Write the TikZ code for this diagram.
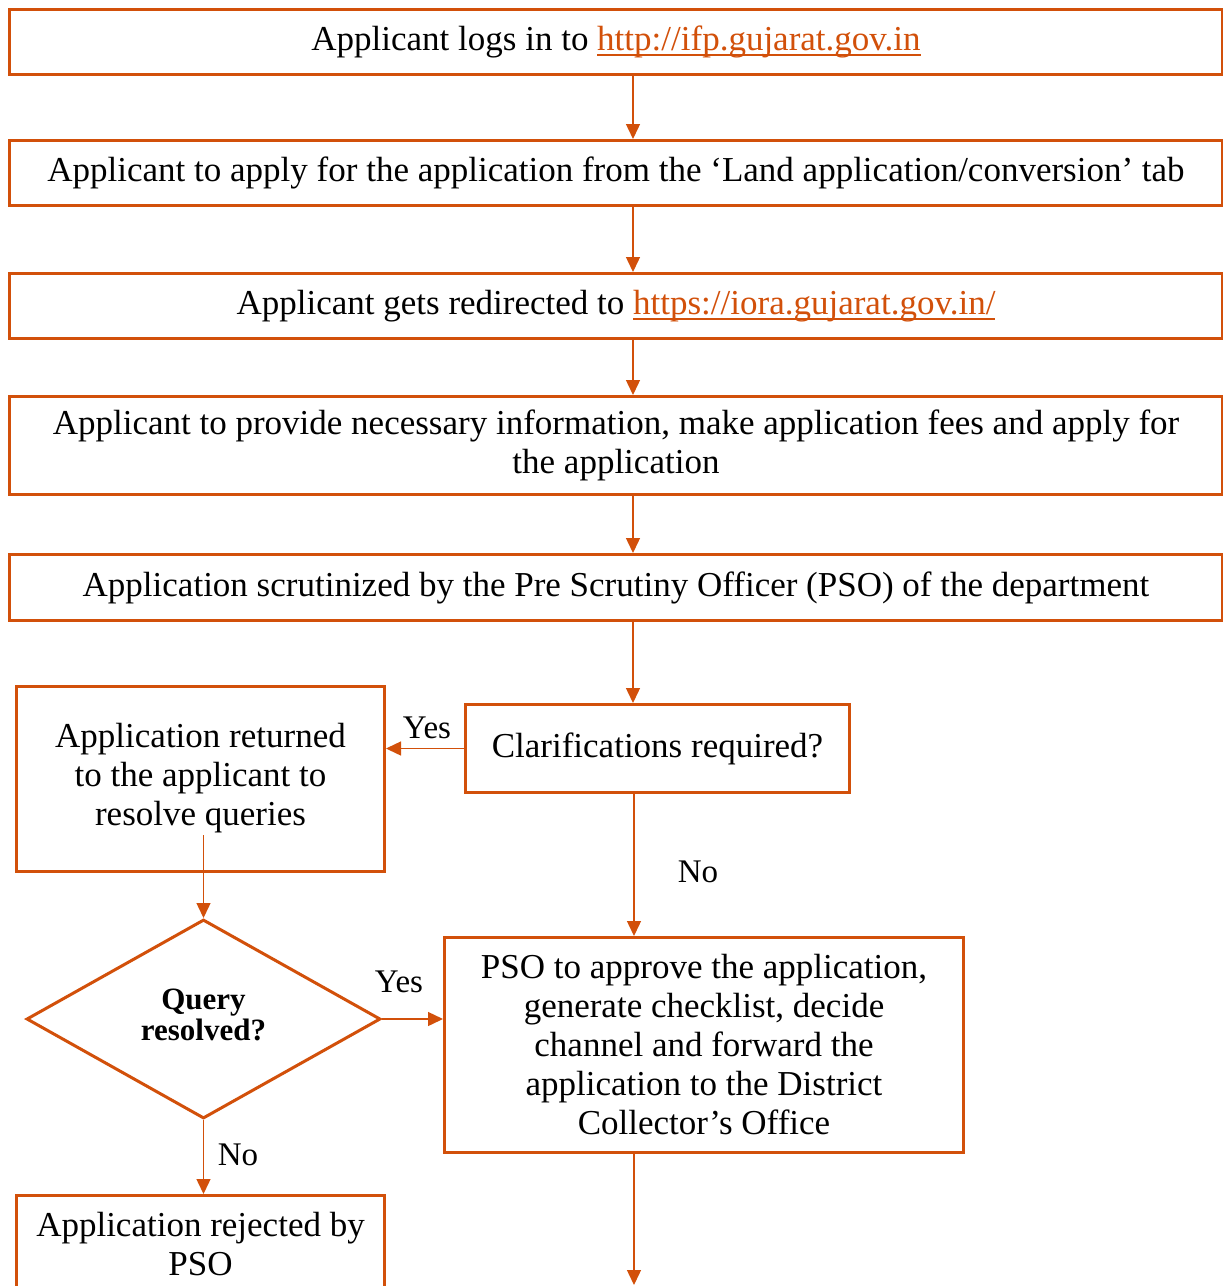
\documentclass[tikz,border=0pt]{standalone}
\usepackage{fontspec}
\setmainfont{Liberation Serif}
\usetikzlibrary{arrows.meta,calc,shapes.geometric}
\definecolor{FlowOrange}{HTML}{D2500A}
\newsavebox{\linkbox}
\newcommand{\weblink}[1]{\textcolor{FlowOrange}{\sbox{\linkbox}{#1}%
  \rlap{\rule[-5.5pt]{\wd\linkbox}{1.6pt}}\usebox{\linkbox}}}
\tikzset{
  stepbox/.style={
    draw=FlowOrange,
    line width=3pt,
    fill=white,
    align=center,
    inner sep=0pt,
    font=\fontsize{35}{39}\selectfont
  },
  decision/.style={
    stepbox,
    shape=diamond,
    font=\bfseries\fontsize{31}{31}\selectfont
  },
  flow/.style={
    draw=FlowOrange,
    line width=1.4pt,
    -{Triangle[length=15pt,width=14pt]}
  },
  answer/.style={inner sep=0pt, font=\fontsize{33}{39}\selectfont}
}

\begin{document}
\begin{tikzpicture}[x=1pt,y=-1pt]
  \useasboundingbox (0,0) rectangle (1223,1286);
  \clip (0,0) rectangle (1223,1286);

  % main column
  \node[stepbox, minimum width=1213pt, minimum height=65pt] (login) at (616,42)
    {Applicant logs in to \weblink{http://ifp.gujarat.gov.in}};
  \node[stepbox, minimum width=1213pt, minimum height=65pt] (apply) at (616,173)
    {Applicant to apply for the application from the ‘Land application/conversion’ tab};
  \node[stepbox, minimum width=1213pt, minimum height=65pt] (redirect) at (616,306)
    {Applicant gets redirected to \weblink{https://iora.gujarat.gov.in/}};
  \node[stepbox, minimum width=1213pt, minimum height=98pt] (provide) at (616,445.5)
    {Applicant to provide necessary information, make application fees and apply for\\
     the application};
  \node[stepbox, minimum width=1213pt, minimum height=66pt] (scrutiny) at (616,587.5)
    {Application scrutinized by the Pre Scrutiny Officer (PSO) of the department};

  % branches
  \node[stepbox, minimum width=384pt, minimum height=88pt] (clarify) at (657.5,748.5)
    {Clarifications required?};
  \node[stepbox, minimum width=368pt, minimum height=185pt] (returned) at (200.5,779)
    {\raisebox{-6pt}{\begin{tabular}{@{}c@{}}Application returned\\ to the applicant to\\ resolve queries\end{tabular}}};
  \node[decision, minimum width=354pt, minimum height=199pt] (resolved) at (203.5,1019)
    {\raisebox{6pt}{\begin{tabular}{@{}c@{}}Query\\ resolved?\end{tabular}}};
  \node[stepbox, minimum width=519pt, minimum height=215pt] (approve) at (704,1045)
    {PSO to approve the application,\\ generate checklist, decide\\ channel and forward the\\
     application to the District\\ Collector’s Office};
  \node[stepbox, minimum width=368pt, minimum height=97pt] (rejected) at (200.5,1244)
    {Application rejected by\\ PSO};

  \coordinate (spine) at (633,0);
  \coordinate (onward) at (634,1285);

  \draw[flow] (login.south -| spine) -- (apply.north -| spine);
  \draw[flow] (apply.south -| spine) -- (redirect.north -| spine);
  \draw[flow] (redirect.south -| spine) -- (provide.north -| spine);
  \draw[flow] (provide.south -| spine) -- (scrutiny.north -| spine);
  \draw[flow] (scrutiny.south -| spine) -- (clarify.north -| spine);
  \draw[flow] (clarify.west) -- (returned.east |- clarify.west);
  \draw[flow] (clarify.south -| onward) -- (approve.north -| onward);
  \draw[flow] ($(returned.south -| resolved.north)+(0,-38)$) -- (resolved.north);
  \draw[flow] (resolved.east) -- (approve.west |- resolved.east);
  \draw[flow] (resolved.south) -- (rejected.north -| resolved.south);
  \draw[flow] (approve.south -| onward) -- (onward);

  \node[answer] (yes1) at (427,728) {Yes};
  \node[answer] (no1) at (698,872) {No};
  \node[answer] (yes2) at (399,982) {Yes};
  \node[answer] (no2) at (238,1155) {No};
\end{tikzpicture}
\end{document}
